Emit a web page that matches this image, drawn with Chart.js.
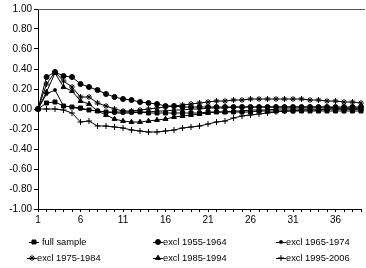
<!DOCTYPE html>
<html>
<head>
<meta charset="utf-8">
<script src="https://cdn.jsdelivr.net/npm/chart.js"></script>
<style>
  html, body { margin: 0; padding: 0; background: #fff; }
  #wrap { width: 366px; height: 268px; }
</style>
</head>
<body>
<div id="wrap"><canvas id="canvas" width="366" height="268"></canvas></div>
<script>
// horizon 1..39
var horizons = [];
for (var i = 1; i <= 39; i++) horizons.push(String(i));

var seriesNames = ['full sample', 'excl 1955-1964', 'excl 1965-1974',
                   'excl 1975-1984', 'excl 1985-1994', 'excl 1995-2006'];

var fullSample = [0, 0.06, 0.07, 0.03, 0.02, 0.01, -0.01, -0.02, -0.03, -0.03,
  -0.03, -0.03, -0.03, -0.04, -0.04, -0.04, -0.04, -0.04, -0.04, -0.04,
  -0.03, -0.03, -0.03, -0.03, -0.03, -0.03, -0.02, -0.02, -0.02, -0.02,
  -0.02, -0.02, -0.02, -0.02, -0.02, -0.02, -0.02, -0.02, -0.02];

var excl5564 = [0, 0.32, 0.37, 0.33, 0.32, 0.25, 0.22, 0.19, 0.15, 0.12,
  0.10, 0.09, 0.07, 0.06, 0.05, 0.03, 0.03, 0.02, 0.02, 0.02,
  0.02, 0.02, 0.02, 0.02, 0.02, 0.02, 0.02, 0.02, 0.02, 0.02,
  0.02, 0.02, 0.02, 0.02, 0.02, 0.02, 0.02, 0.02, 0.02];

var excl6574 = [0, 0.15, 0.19, 0.03, 0.02, 0.0, -0.01, -0.02, -0.03, -0.04,
  -0.04, -0.04, -0.03, -0.03, -0.02, -0.02, -0.01, -0.01, 0, 0,
  0.01, 0.01, 0.01, 0.02, 0.02, 0.02, 0.02, 0.02, 0.02, 0.02,
  0.02, 0.02, 0.02, 0.02, 0.02, 0.01, 0.01, 0.01, 0.01];

var excl7584 = [0, 0.25, 0.37, 0.28, 0.22, 0.12, 0.12, 0.06, 0.03, 0.0,
  -0.02, -0.02, -0.01, 0.0, 0.01, 0.02, 0.03, 0.04, 0.05, 0.06,
  0.07, 0.08, 0.08, 0.09, 0.09, 0.10, 0.10, 0.10, 0.10, 0.10,
  0.10, 0.10, 0.09, 0.09, 0.08, 0.08, 0.07, 0.07, 0.06];

var excl8594 = [0, 0.17, 0.36, 0.22, 0.18, 0.08, 0.05, -0.02, -0.06, -0.10,
  -0.12, -0.13, -0.13, -0.12, -0.11, -0.10, -0.08, -0.07, -0.06, -0.05,
  -0.04, -0.03, -0.03, -0.02, -0.02, -0.01, -0.01, -0.01, 0, 0,
  0, 0, 0, 0, 0, 0, 0, 0, 0];

var excl9506 = [0, 0, 0, -0.01, -0.04, -0.13, -0.12, -0.17, -0.17, -0.18,
  -0.19, -0.21, -0.22, -0.23, -0.23, -0.22, -0.21, -0.19, -0.18, -0.17,
  -0.15, -0.13, -0.12, -0.09, -0.07, -0.06, -0.05, -0.04, -0.03, -0.02,
  -0.02, -0.01, -0.01, -0.01, 0, 0, 0, 0, 0];

var yTicks = [-1, -0.8, -0.6, -0.4, -0.2, 0, 0.2, 0.4, 0.6, 0.8, 1];

var styles = [
  { pointStyle: 'rect', radius: 2.8 },
  { pointStyle: 'circle', radius: 2.5 },
  { pointStyle: 'rect', radius: 1.7 },
  { pointStyle: 'star', radius: 3 },
  { pointStyle: 'triangle', radius: 2.8 },
  { pointStyle: 'cross', radius: 3 }
];
var allData = [fullSample, excl5564, excl6574, excl7584, excl8594, excl9506];

var datasets = allData.map(function (d, k) {
  return {
    label: seriesNames[k],
    data: d,
    borderColor: '#000',
    backgroundColor: '#000',
    borderWidth: 1,
    pointStyle: styles[k].pointStyle,
    pointRadius: styles[k].radius,
    pointBorderWidth: 1,
    pointBorderColor: '#000',
    pointBackgroundColor: '#000',
    tension: 0
  };
});

// legend slots: [marker x, text x, y]
var legendPos = [
  [34, 42, 242], [158, 163, 242], [281, 286, 242],
  [32, 37, 258], [158, 163, 258], [281, 286, 258]
];

var extras = {
  id: 'extras',
  afterDraw: function (chart) {
    var ctx = chart.ctx, a = chart.chartArea;
    ctx.save();
    ctx.strokeStyle = '#555';
    ctx.lineWidth = 1;
    ctx.beginPath();
    ctx.moveTo(a.left, a.top + 0.5);
    ctx.lineTo(a.right + 4, a.top + 0.5);
    ctx.stroke();

    ctx.font = '9.3px "Liberation Sans", Arial, sans-serif';
    ctx.textBaseline = 'middle';
    ctx.fillStyle = '#000';
    seriesNames.forEach(function (name, k) {
      var p = legendPos[k];
      ctx.strokeStyle = '#000';
      ctx.beginPath();
      ctx.moveTo(p[0] - 5, p[2] + 0.5);
      ctx.lineTo(p[0] + 5, p[2] + 0.5);
      ctx.stroke();
      Chart.helpers.drawPoint(ctx, {
        pointStyle: styles[k].pointStyle,
        radius: styles[k].radius,
        rotation: 0,
        borderWidth: 1
      }, p[0], p[2]);
      ctx.fillText(name, p[1], p[2]);
    });
    ctx.restore();
  }
};

new Chart(document.getElementById('canvas').getContext('2d'), {
  type: 'line',
  data: { labels: horizons, datasets: datasets },
  plugins: [extras],
  options: {
    responsive: false,
    animation: false,
    layout: { padding: { top: 9, right: 4, bottom: 39, left: 0 } },
    plugins: { legend: { display: false }, tooltip: { enabled: false } },
    scales: {
      x: {
        offset: false,
        grid: { drawOnChartArea: false, drawTicks: true, tickLength: 3, color: '#000' },
        border: { display: true, color: '#000', width: 1 },
        ticks: {
          autoSkip: false, maxRotation: 0, padding: 2, color: '#000',
          font: { family: '"Liberation Sans", Arial', size: 10 },
          callback: function (v, i) { return i % 5 === 0 ? horizons[i] : ''; }
        },
        afterFit: function (s) { s.height = 20; }
      },
      y: {
        min: -1, max: 1,
        afterBuildTicks: function (s) { s.ticks = yTicks.map(function (v) { return { value: v }; }); },
        grid: { drawOnChartArea: false, drawTicks: true, tickLength: 4, color: '#000' },
        border: { display: true, color: '#000', width: 1 },
        ticks: {
          padding: 2, color: '#000',
          font: { family: '"Liberation Sans", Arial', size: 10 },
          callback: function (v) { return Number(v).toFixed(2); }
        },
        afterFit: function (s) { s.width = 38; }
      }
    }
  }
});
</script>
</body>
</html>
